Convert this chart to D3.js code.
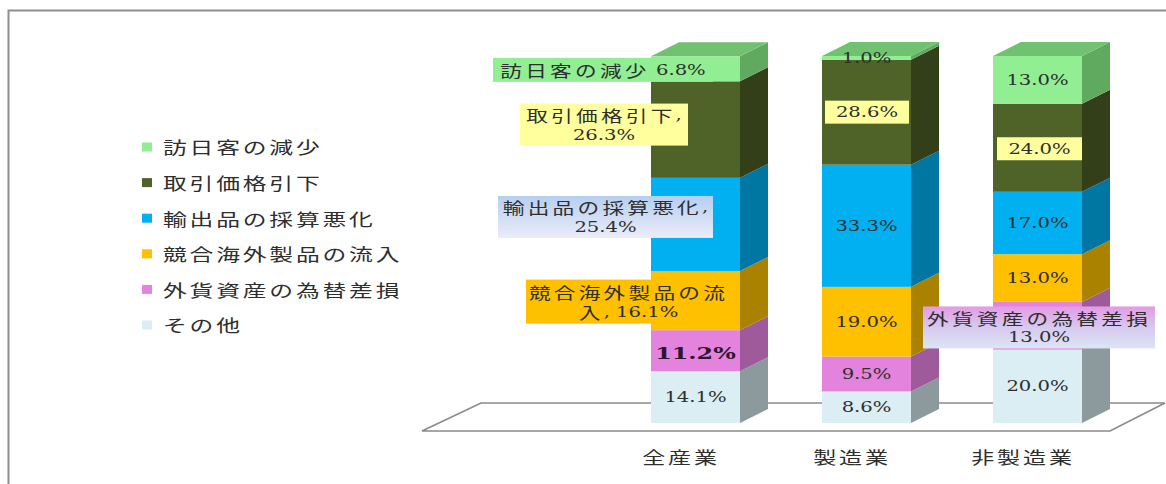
<!DOCTYPE html>
<html>
<head>
<meta charset="utf-8">
<script src="https://cdn.jsdelivr.net/npm/d3@7"></script>
<style>
  html, body { margin: 0; padding: 0; background: #ffffff; }
  svg { display: block; }
</style>
</head>
<body>
<svg id="chart" width="1166" height="484"></svg>
<script>
// ---- data -------------------------------------------------------------
const categories = ["全産業", "製造業", "非製造業"];
// series, stacked from the bottom of each column upwards
const seriesNames = ["その他", "外貨資産の為替差損", "競合海外製品の流入", "輸出品の採算悪化", "取引価格引下", "訪日客の減少"];
const sonota   = [14.1, 8.6, 20.0];
const gaika    = [11.2, 9.5, 13.0];
const kyogo    = [16.1, 19.0, 13.0];
const yushutsu = [25.4, 33.3, 17.0];
const torihiki = [26.3, 28.6, 24.0];
const honichi  = [6.8, 1.0, 13.0];
const seriesValues = [sonota, gaika, kyogo, yushutsu, torihiki, honichi];
// legend lists the series top-down
const legendOrder = ["訪日客の減少", "取引価格引下", "輸出品の採算悪化", "競合海外製品の流入", "外貨資産の為替差損", "その他"];

// ---- styles -------------------------------------------------------------
const palette = {
  "訪日客の減少":       { front: "#92ee92", side: "#60aa60", top: "#70c270" },
  "取引価格引下":       { front: "#4f6228", side: "#323f18", top: "#3f4f1f" },
  "輸出品の採算悪化":   { front: "#00b0f0", side: "#0077a3", top: "#0090c8" },
  "競合海外製品の流入": { front: "#ffc000", side: "#ab8200", top: "#d9a300" },
  "外貨資産の為替差損": { front: "#e383de", side: "#9e5a9b", top: "#c070bb" },
  "その他":             { front: "#daeef3", side: "#8c9a9e", top: "#b5c5ca" }
};
const CJK_FONT = "'Noto Sans CJK JP', 'Noto Sans CJK SC', sans-serif";
const NUM_FONT = "'DejaVu Serif', 'Liberation Serif', serif";
const SX = 1.4;           // horizontal text stretch
const TEXT_COLOR = "#2e2e2e";

// ---- layout ------------------------------------------------------------
const W = 1166, H = 484;
const barW = 89, depthX = 28, depthY = 14;
const x = d3.scalePoint().domain(categories).range([695.5, 1037.5]);
const y = d3.scaleLinear().domain([0, 100]).range([423, 56]);

const svg = d3.select("#chart");

// gradients for the highlighted label boxes
const defs = svg.append("defs");
const gBlue = defs.append("linearGradient").attr("id", "boxBlue").attr("x1", 0).attr("y1", 0).attr("x2", 0).attr("y2", 1);
gBlue.append("stop").attr("offset", "0%").attr("stop-color", "#b6cff0");
gBlue.append("stop").attr("offset", "100%").attr("stop-color", "#ebecf8");
const gPink = defs.append("linearGradient").attr("id", "boxPink").attr("x1", 0).attr("y1", 0).attr("x2", 0).attr("y2", 1);
gPink.append("stop").attr("offset", "0%").attr("stop-color", "#e49ae4");
gPink.append("stop").attr("offset", "45%").attr("stop-color", "#d6c6ee");
gPink.append("stop").attr("offset", "100%").attr("stop-color", "#dde5f6");

// outer frame
svg.append("path")
  .attr("d", `M8.5,${H} V10.5 H${W}`)
  .attr("fill", "none").attr("stroke", "#8e8e8e").attr("stroke-width", 2);

// floor of the 3-D plot
const floorFront = y(0) + 8, floorBack = y(0) - 20;
const floorLeft = x(categories[0]) - barW / 2 - 229;
const floorRight = x(categories[categories.length - 1]) + barW / 2 + 28;
svg.append("path")
  .attr("d", `M${floorLeft},${floorFront} L${floorLeft + 59},${floorBack} L${floorRight + 55},${floorBack} L${floorRight},${floorFront} Z`)
  .attr("fill", "#ffffff").attr("stroke", "#8a8a8a").attr("stroke-width", 1.6);

// ---- text helper: CJK runs in a gothic face, digits in a serif face ----
const CJK_RE = /[\u3000-\u9fff\uff00-\uffef]/;
function richText(parent, str, cx, cy, opt = {}) {
  const o = Object.assign({ cjkSize: 15.5, numSize: 14, ls: 2.3, anchor: "middle", color: TEXT_COLOR, weight: "normal" }, opt);
  const t = parent.append("text")
    .attr("transform", `translate(${cx},${cy}) scale(${SX},1)`)
    .attr("text-anchor", o.anchor)
    .attr("dominant-baseline", "central")
    .attr("fill", o.color)
    .attr("font-weight", o.weight);
  const runs = [];
  for (const ch of str) {
    const c = CJK_RE.test(ch);
    if (!runs.length || runs[runs.length - 1].cjk !== c) runs.push({ cjk: c, s: "" });
    runs[runs.length - 1].s += ch;
  }
  runs.forEach(r => t.append("tspan").text(r.s)
    .attr("font-family", r.cjk ? CJK_FONT : NUM_FONT)
    .attr("font-size", r.cjk ? o.cjkSize : o.numSize)
    .attr("letter-spacing", r.cjk ? o.ls : 0));
  return t;
}

// ---- stacked 3-D columns ----------------------------------------------
const table = categories.map((c, i) => {
  const row = { cat: c };
  seriesNames.forEach((s, k) => row[s] = seriesValues[k][i]);
  return row;
});
const stacked = d3.stack().keys(seriesNames)(table);

const bars = svg.append("g");
stacked.forEach((layer, k) => {
  const col = palette[layer.key];
  layer.forEach((d, i) => {
    const x0 = x(d.data.cat) - barW / 2, x1 = x0 + barW;
    const yb = y(d[0]), yt = y(d[1]);
    // side face
    bars.append("path")
      .attr("d", `M${x1},${yt} L${x1 + depthX},${yt - depthY} L${x1 + depthX},${yb - depthY} L${x1},${yb} Z`)
      .attr("fill", col.side);
    // front face
    bars.append("rect")
      .attr("x", x0).attr("y", yt).attr("width", barW).attr("height", yb - yt)
      .attr("fill", col.front);
    // top face on the uppermost segment
    if (k === stacked.length - 1) {
      bars.append("path")
        .attr("d", `M${x0},${yt} L${x0 + depthX},${yt - depthY} L${x1 + depthX},${yt - depthY} L${x1},${yt} Z`)
        .attr("fill", col.top);
    }
  });
});

// ---- data labels ---------------------------------------------------------
const fmt = v => d3.format(".1f")(v) + "%";
// special label treatments, keyed by "category|series"; box = [left, right, height] from the column's left edge
const labelSpecs = {
  "全産業|訪日客の減少": { fill: palette["訪日客の減少"].front, box: [-158, 62, 24], dy: 1,
    lines: (n, v) => [`${n} ${v}`] },
  "全産業|取引価格引下": { fill: "#ffff9e", box: [-131, 37, 42], dy: -5,
    lines: (n, v) => [`${n},`, v] },
  "全産業|輸出品の採算悪化": { fill: "url(#boxBlue)", box: [-153, 62, 42], dy: -7.5,
    lines: (n, v) => [`${n},`, v] },
  "全産業|競合海外製品の流入": { fill: palette["競合海外製品の流入"].front, box: [-125, 84, 44], dy: 1, tx: -2,
    lines: (n, v) => [n.slice(0, -1), `${n.slice(-1)}, ${v}`] },
  "全産業|外貨資産の為替差損": { dy: 3, numSize: 17, weight: "bold", color: "#2e162e",
    lines: (n, v) => [v] },
  "製造業|取引価格引下": { fill: "#ffff9e", box: [3, 87, 23], dy: 0,
    lines: (n, v) => [v] },
  "非製造業|取引価格引下": { fill: "#ffff9e", box: [4, 89, 23], dy: 1,
    lines: (n, v) => [v] },
  "非製造業|外貨資産の為替差損": { fill: "url(#boxPink)", box: [-70, 162, 42], dy: 1.7,
    lines: (n, v) => [n, v] }
};

const labels = svg.append("g");
stacked.forEach(layer => {
  layer.forEach(d => {
    const cat = d.data.cat;
    const v = d[1] - d[0];
    const x0 = x(cat) - barW / 2;
    const mid = (y(d[0]) + y(d[1])) / 2;
    const spec = labelSpecs[`${cat}|${layer.key}`] || { dy: 0, lines: (n, val) => [val] };
    const cy = mid + (spec.dy || 0);
    let cx = x(cat);
    if (spec.box) {
      const [l, r, h] = spec.box;
      labels.append("rect")
        .attr("x", x0 + l).attr("y", cy - h / 2)
        .attr("width", r - l).attr("height", h)
        .attr("fill", spec.fill);
      cx = x0 + (l + r) / 2;
    }
    cx += spec.tx || 0;
    const lines = spec.lines(layer.key, fmt(v));
    const lh = 20;
    lines.forEach((ln, j) => {
      richText(labels, ln, cx, cy + (j - (lines.length - 1) / 2) * lh, {
        numSize: spec.numSize || 14,
        weight: spec.weight || "normal",
        color: spec.color || TEXT_COLOR
      });
    });
  });
});

// ---- category axis -----------------------------------------------------
const axisG = svg.append("g")
  .attr("transform", `translate(-15, ${y(0) + 34})`)
  .call(d3.axisBottom(x).tickSize(0).tickPadding(0));
axisG.select(".domain").remove();
axisG.selectAll(".tick text")
  .attr("dy", null)
  .attr("dominant-baseline", "central")
  .attr("transform", `scale(${SX},1)`)
  .attr("font-family", CJK_FONT)
  .attr("font-size", 16.5)
  .attr("letter-spacing", 2)
  .attr("fill", TEXT_COLOR);

// ---- legend --------------------------------------------------------------
const legend = svg.append("g");
const ly = d3.scalePoint().domain(legendOrder).range([147, 325]);
legendOrder.forEach(name => {
  legend.append("rect")
    .attr("x", 142).attr("y", ly(name) - 4.5)
    .attr("width", 10).attr("height", 9)
    .attr("fill", palette[name].front);
  richText(legend, name, 163, ly(name), { anchor: "start", cjkSize: 17, ls: 2 });
});
</script>
</body>
</html>
